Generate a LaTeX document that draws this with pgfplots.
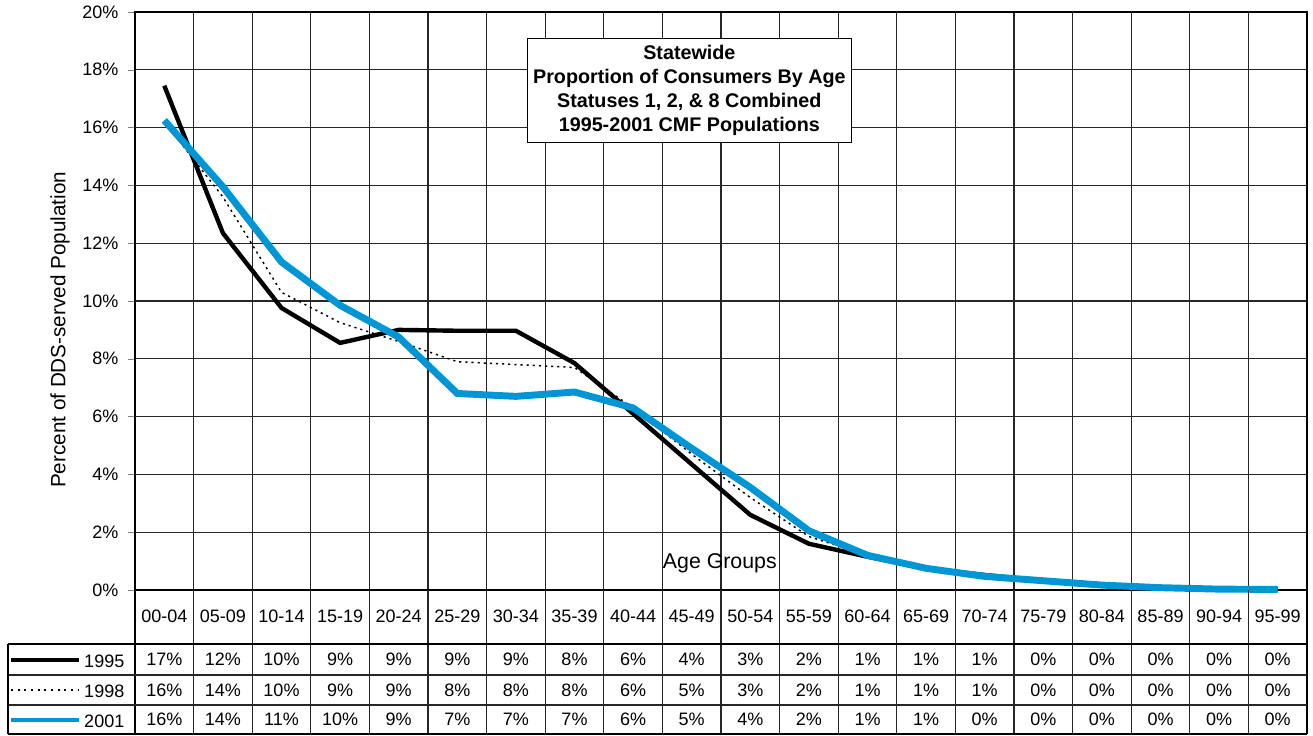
\documentclass[border=0pt]{standalone}
\usepackage{fontspec}
\setmainfont{Liberation Sans}
\usepackage{pgfplots}
\pgfplotsset{compat=1.18}
\definecolor{cblue}{RGB}{0,150,214}
\newcommand{\fs}{\fontsize{13.5}{16}\selectfont}

\begin{document}
\begin{tikzpicture}
\begin{axis}[
  name=ax, at={(0,0)}, anchor=south west,
  scale only axis, width=879pt, height=433.5pt,
  xmin=-0.5, xmax=19.5, ymin=0, ymax=20,
  xtick={-0.5,0.5,1.5,2.5,3.5,4.5,5.5,6.5,7.5,8.5,9.5,10.5,11.5,12.5,13.5,14.5,15.5,16.5,17.5,18.5,19.5},
  xticklabels={}, major x tick style={draw=none},
  ytick={0,2,...,20}, ytick pos=left, tick align=outside, major tick length=5pt,
  yticklabel={\pgfmathprintnumber{\tick}\%},
  /pgf/number format/assume math mode=true,
  ticklabel style={font=\fs},
  yticklabel style={xshift=-4pt},
  grid=major, major grid style={black!85, line width=0.8pt},
  axis line style={black, line width=1.3pt},
  ylabel={Percent of DDS-served Population},
  ylabel style={font=\fontsize{15.5}{18}\selectfont, at={(rel axis cs:-0.064,0.45)}, anchor=center},
  clip=false,
]
% 1995
\addplot[black, line width=3.3pt] coordinates {
 (0,17.45) (1,12.35) (2,9.76) (3,8.55) (4,9.0) (5,8.97) (6,8.97) (7,7.85)
 (8,6.1) (9,4.35) (10,2.6) (11,1.6) (12,1.15) (13,0.75) (14,0.52) (15,0.32)
 (16,0.17) (17,0.08) (18,0.03) (19,0.02)};
% 1998
\addplot[black, line width=1.1pt, dash pattern=on 1.6pt off 3pt] coordinates {
 (0,16.2) (1,13.6) (2,10.3) (3,9.25) (4,8.6) (5,7.9) (6,7.8) (7,7.7)
 (8,6.3) (9,4.7) (10,3.2) (11,1.85) (12,1.2) (13,0.76) (14,0.51) (15,0.33)
 (16,0.17) (17,0.08) (18,0.03) (19,0.02)};
% 2001
\addplot[cblue, line width=5.2pt] coordinates {
 (0,16.25) (1,13.95) (2,11.35) (3,9.85) (4,8.75) (5,6.8) (6,6.7) (7,6.85)
 (8,6.3) (9,4.9) (10,3.55) (11,2.05) (12,1.2) (13,0.75) (14,0.47) (15,0.32)
 (16,0.17) (17,0.08) (18,0.03) (19,0.02)};
\node[draw=black, line width=0.8pt, fill=white, align=center, inner sep=2pt,
      font=\bfseries\fontsize{14.8}{18}\selectfont,
      minimum width=243pt, minimum height=78pt]
  at (axis cs:8.96,17.27)
  {Statewide\\Proportion of Consumers By Age\\Statuses 1, 2, \& 8 Combined\\1995-2001 CMF Populations};
\node[font=\fontsize{16}{19}\selectfont] at (axis cs:9.48,0.93) {Age Groups};
\end{axis}

% data table below the chart, in image pixel units
\begin{scope}[shift={(-101.25pt,442.5pt)}, x=0.75pt, y=-0.75pt]
\foreach \k in {1,...,19}
  \draw[black!85, line width=0.8pt] ({135+\k*58.6},590) -- ({135+\k*58.6},734);
\draw[line width=1.3pt] (135,590) -- (135,734);
\draw[line width=1.3pt] (1307,590) -- (1307,734);
\draw[line width=1.3pt] (8,644) -- (1307,644);
\draw[black!85, line width=0.8pt] (8,675) -- (1307,675);
\draw[black!85, line width=0.8pt] (8,705) -- (1307,705);
\draw[line width=1.3pt] (8,734) -- (1307,734);
\draw[line width=1.3pt] (8,644) -- (8,734);
\foreach \lab [count=\i from 0] in {00-04,05-09,10-14,15-19,20-24,25-29,30-34,35-39,40-44,45-49,50-54,55-59,60-64,65-69,70-74,75-79,80-84,85-89,90-94,95-99}
  \node[font=\fs] at ({135+(\i+0.5)*58.6},616.5) {\lab};
\foreach \a/\b/\c [count=\i from 0] in {17/16/16,12/14/14,10/10/11,9/9/10,9/9/9,9/8/7,9/8/7,8/8/7,6/6/6,4/5/5,3/3/4,2/2/2,1/1/1,1/1/1,1/1/0,0/0/0,0/0/0,0/0/0,0/0/0,0/0/0} {
  \node[font=\fs] at ({135+(\i+0.5)*58.6},659.5) {\a\%};
  \node[font=\fs] at ({135+(\i+0.5)*58.6},690) {\b\%};
  \node[font=\fs] at ({135+(\i+0.5)*58.6},719.5) {\c\%};
}
\draw[black, line width=3pt] (11,660) -- (79,660);
\draw[black, line width=0.8pt, dash pattern=on 1.5pt off 3.5pt] (11,690) -- (79,690);
\draw[cblue, line width=2.6pt] (11,720) -- (79,720);
\node[font=\fs, anchor=east] at (129,661) {1995};
\node[font=\fs, anchor=east] at (129,691) {1998};
\node[font=\fs, anchor=east] at (129,721) {2001};
\pgfresetboundingbox
\path (0,0) rectangle (1313,735);
\end{scope}
\end{tikzpicture}
\end{document}
